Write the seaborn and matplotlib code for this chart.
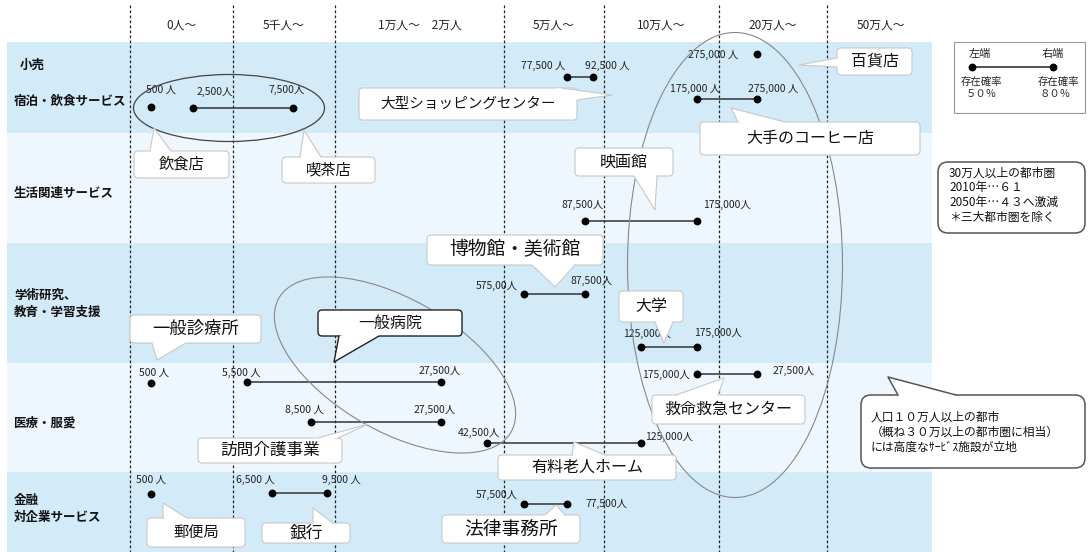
import numpy as np
import pandas as pd
import seaborn as sns
import matplotlib.pyplot as plt
from matplotlib.patches import FancyBboxPatch, Ellipse, Polygon, Rectangle

# ---- data ----
col_bounds = [0, 5000, 10000, 50000, 100000, 200000, 500000, 1000000]
col_labels = ["0人～", "5千人～", "1万人～　2万人", "5万人～", "10万人～", "20万人～", "50万人～"]

sectors = ["小売", "宿泊・飲食サービス", "生活関連サービス", "学術研究、", "教育・学習支援",
           "医療・服愛", "金融", "対企業サービス"]

services = ["飲食店", "喫茶店", "大型ショッピングセンター", "百貨店", "大手のコーヒー店", "映画館",
            "博物館・美術館", "大学", "一般診療所", "一般病院", "救命救急センター", "訪問介護事業",
            "有料老人ホーム", "郵便局", "銀行", "法律事務所"]
# population where the facility exists with 50% (left) / 80% (right) probability
left_pop = [500, 2500, 77500, 275000, 175000, 87500, 57500, 125000,
            500, 5500, 175000, 8500, 42500, 500, 6500, 57500]
right_pop = [np.nan, 7500, 92500, np.nan, 275000, 175000, 87500, 175000,
             np.nan, 27500, 275000, 27500, 125000, np.nan, 9500, 77500]
left_text = ["500 人", "2,500人", "77,500 人", "275,000 人", "175,000 人", "87,500人", "575,00人", "125,000人",
             "500 人", "5,500 人", "175,000人", "8,500 人", "42,500人", "500 人", "6,500 人", "57,500人"]
right_text = ["", "7,500人", "92,500 人", "", "275,000 人", "175,000人", "87,500人", "175,000人",
              "", "27,500人", "27,500人", "27,500人", "125,000人", "", "9,500 人", "77,500人"]

legend_left = ["左端", "存在確率", "５０％"]
legend_right = ["右端", "存在確率", "８０％"]
note1 = ["30万人以上の都市圏", "2010年…６１", "2050年…４３へ激減", "＊三大都市圏を除く"]
note2 = ["人口１０万人以上の都市", "（概ね３０万以上の都市圏に相当）", "には高度なｻｰﾋﾞｽ施設が立地"]

# ---- layout (pixels) ----
W, H = 1088, 552
col_px = [130, 233, 335, 504, 604, 719, 827, 935]
blue, light = "#d3eaf8", "#eef7fd"
bands = [(42, 133, blue), (133, 243, light), (243, 363, blue), (363, 472, light), (472, 552, blue)]
sector_pos = [(20, 65), (14, 101), (14, 193), (14, 295), (14, 312), (14, 423), (14, 500), (14, 517)]
item_y = [107, 108, 77, 54, 99, 221, 294, 347, 383, 382, 374, 422, 443, 494, 493, 504]
lab_l = [(10, -17, "center"), (21, -16, "center"), (-2, -11, "right"), (-18, 1, "right"),
         (-2, -10, "center"), (-2, -16, "center"), (-6, -8, "right"), (6, -13, "center"),
         (3, -10, "center"), (-6, -9, "center"), (-7, 1, "right"), (-7, -12, "center"),
         (-8, -10, "center"), (0, -14, "center"), (-16, -13, "center"), (-6, -9, "right")]
lab_r = [None, (-6, -18, "center"), (-8, -11, "left"), None,
         (17, -10, "center"), (30, -16, "center"), (7, -13, "center"), (21, -14, "center"),
         None, (-2, -11, "center"), (16, -3, "left"), (-7, -12, "center"),
         (4, -6, "left"), None, (14, -13, "center"), (18, 0, "left")]
# box (x0, y0, x1, y1), pointer base points, pointer tip, font size
bubbles = [
    ((134, 151, 229, 178), (150, 151), (171, 151), (154, 128), 11),
    ((282, 157, 375, 183), (300, 157), (321, 157), (304, 130), 11),
    ((359, 88, 577, 120), (561, 88), (577, 100), (612, 95), 10.5),
    ((837, 48, 912, 75), (837, 58), (837, 67), (799, 65), 11.5),
    ((700, 122, 920, 155), (738, 122), (785, 122), (731, 108), 11.5),
    ((575, 148, 673, 176), (634, 176), (657, 176), (655, 210), 11.5),
    ((427, 235, 603, 265), (532, 265), (575, 265), (555, 287), 13.5),
    ((619, 291, 683, 322), (655, 322), (673, 322), (664, 343), 11.5),
    ((130, 315, 261, 343), (152, 343), (186, 343), (157, 360), 12.5),
    ((318, 310, 462, 336), (339, 336), (379, 336), (334, 362), 11.5),
    ((652, 395, 805, 424), (676, 395), (718, 395), (724, 378), 11.5),
    ((198, 438, 342, 463), (318, 438), (338, 438), (368, 424), 12),
    ((498, 455, 676, 480), (572, 455), (605, 455), (574, 442), 11.5),
    ((147, 518, 245, 547), (163, 518), (187, 518), (163, 503), 11),
    ((262, 523, 350, 543), (313, 523), (333, 523), (313, 508), 12),
    ((442, 515, 580, 543), (545, 515), (565, 515), (556, 505), 13.5),
]


# ---- x scale: each population band is one column, log spacing inside ----
def interp_ext(x, xp, fp):
    x = np.asarray(x, dtype=float)
    y = np.interp(x, xp, fp)
    lo = fp[0] + (x - xp[0]) * (fp[1] - fp[0]) / (xp[1] - xp[0])
    hi = fp[-1] + (x - xp[-1]) * (fp[-1] - fp[-2]) / (xp[-1] - xp[-2])
    return np.where(x < xp[0], lo, np.where(x > xp[-1], hi, y))


def to_u(v):
    v = np.asarray(v, dtype=float)
    p = np.clip(v, 1e-9, None)
    return np.where(v < 0, v / 5000, np.where(v < 5000, (p / 5000) ** 0.7, 1 + np.log(p / 5000)))


def from_u(u):
    u = np.asarray(u, dtype=float)
    return np.where(u < 0, u * 5000,
                    np.where(u < 1, np.clip(u, 0, None) ** (1 / 0.7) * 5000,
                             5000 * np.exp(np.clip(u - 1, None, 50))))


u_bounds = to_u(col_bounds)


def fwd(v):
    return interp_ext(to_u(v), u_bounds, col_px)


def inv(p):
    return from_u(interp_ext(p, col_px, u_bounds))


sns.set_style("white")
plt.rcParams["font.family"] = ["Noto Sans CJK JP", "DejaVu Sans"]

fig = plt.figure(figsize=(W / 100, H / 100), dpi=100)
ax = fig.add_axes([0, 0, 1, 1])
ov = fig.add_axes([0, 0, 1, 1])
ov.set_zorder(ax.get_zorder() + 1)
ov.patch.set_visible(False)

# background bands
for y0, y1, c in bands:
    ax.axhspan(y0, y1, xmin=7 / W, xmax=932 / W, color=c, lw=0, zorder=0)

# column boundaries
ax.vlines(col_bounds[:-1], 5, H, colors="#222222", linestyles=(0, (2.2, 1.8)), lw=0.9, zorder=1)

# connectors and dots
rows = []
for i, s in enumerate(services):
    rows.append({"service": s, "pop": left_pop[i], "y": item_y[i]})
    if not np.isnan(right_pop[i]):
        rows.append({"service": s, "pop": right_pop[i], "y": item_y[i]})
        ax.hlines(item_y[i], left_pop[i], right_pop[i], color="#333333", lw=1.1, zorder=3)
dots = pd.DataFrame(rows)
sns.scatterplot(data=dots, x="pop", y="y", color="black", s=32, linewidth=0,
                legend=False, ax=ax, zorder=4)

# value labels
for i in range(len(services)):
    for val, txt, off in ((left_pop[i], left_text[i], lab_l[i]), (right_pop[i], right_text[i], lab_r[i])):
        if off is None:
            continue
        ax.annotate(txt, xy=(val, item_y[i]), xytext=(off[0], -off[1]), textcoords="offset pixels",
                    ha=off[2], va="center", fontsize=7.5, color="#222222", zorder=5)

ax.set_xscale("function", functions=(fwd, inv))
ax.set_xlim(float(inv(0.0)), float(inv(float(W))))
ax.set_ylim(H, 0)
ax.set_xticks([])
ax.set_yticks([])
ax.axis("off")

# overlay in pixel coordinates
ov.set_xlim(0, W)
ov.set_ylim(H, 0)
ov.axis("off")

for i, lab in enumerate(col_labels):
    ov.text((col_px[i] + col_px[i + 1]) / 2, 25, lab, ha="center", va="center",
            fontsize=8.5, color="#222222")

for name, (x, y) in zip(sectors, sector_pos):
    ov.text(x, y, name, ha="left", va="center", fontsize=9, color="#111111", fontweight="bold")

# grouping ellipses
ov.add_patch(Ellipse((229, 108), 191, 67, fill=False, ec="#444444", lw=0.9, zorder=3))
ov.add_patch(Ellipse((735, 265), 215, 465, fill=False, ec="#888888", lw=0.8, zorder=3))
ov.add_patch(Ellipse((395, 365), 268, 132, angle=30, fill=False, ec="#888888", lw=0.8, zorder=3))


def bubble(text, box, b1, b2, tip, fs, edge="#c8c8c8", lw=0.8):
    x0, y0, x1, y1 = box
    ov.add_patch(FancyBboxPatch((x0, y0), x1 - x0, y1 - y0, boxstyle="round,pad=0,rounding_size=4",
                                fc="white", ec=edge, lw=lw, zorder=5))
    cx, cy = (x0 + x1) / 2, (y0 + y1) / 2
    ov.add_patch(Polygon([b1, tip, b2, (cx, cy)], closed=True, fc="white", ec="none", zorder=6))
    ov.plot([b1[0], tip[0], b2[0]], [b1[1], tip[1], b2[1]], color=edge, lw=lw, zorder=7)
    ov.text(cx, cy, text, ha="center", va="center", fontsize=fs, color="#111111", zorder=8)


for name, (box, b1, b2, tip, fs) in zip(services, bubbles):
    if name == "一般病院":
        bubble(name, box, b1, b2, tip, fs, edge="#222222", lw=1.0)
    else:
        bubble(name, box, b1, b2, tip, fs)

# legend box
ov.add_patch(Rectangle((954, 42), 131, 71, fill=True, fc="white", ec="#999999", lw=0.8, zorder=5))
ov.plot([972, 1053], [67, 67], color="#222222", lw=1.1, zorder=6)
ov.scatter([972, 1053], [67, 67], s=32, color="black", lw=0, zorder=7)
ov.text(980, 54, legend_left[0], ha="center", va="center", fontsize=8, zorder=7)
ov.text(1053, 54, legend_right[0], ha="center", va="center", fontsize=8, zorder=7)
ov.text(961, 82, legend_left[1], ha="left", va="center", fontsize=7.5, zorder=7)
ov.text(1038, 82, legend_right[1], ha="left", va="center", fontsize=7.5, zorder=7)
ov.text(966, 94, legend_left[2], ha="left", va="center", fontsize=7.5, zorder=7)
ov.text(1040, 94, legend_right[2], ha="left", va="center", fontsize=7.5, zorder=7)

# note boxes
ov.add_patch(FancyBboxPatch((938, 162), 147, 71, boxstyle="round,pad=0,rounding_size=10",
                            fc="white", ec="#555555", lw=1.1, zorder=5))
for k, line in enumerate(note1):
    ov.text(949, 173 + 14.7 * k, line, ha="left", va="center", fontsize=8.5, color="#111111", zorder=6)

ov.add_patch(FancyBboxPatch((861, 395), 224, 73, boxstyle="round,pad=0,rounding_size=10",
                            fc="white", ec="#555555", lw=1.1, zorder=5))
ov.add_patch(Polygon([(898, 395), (888, 377), (956, 395), (930, 420)], closed=True,
                     fc="white", ec="none", zorder=6))
ov.plot([898, 888, 956], [395, 377, 395], color="#555555", lw=1.1, zorder=7)
for k, line in enumerate(note2):
    ov.text(871, 417 + 15 * k, line, ha="left", va="center", fontsize=8.5, color="#111111", zorder=8)

fig.savefig("out.png", dpi=100)
